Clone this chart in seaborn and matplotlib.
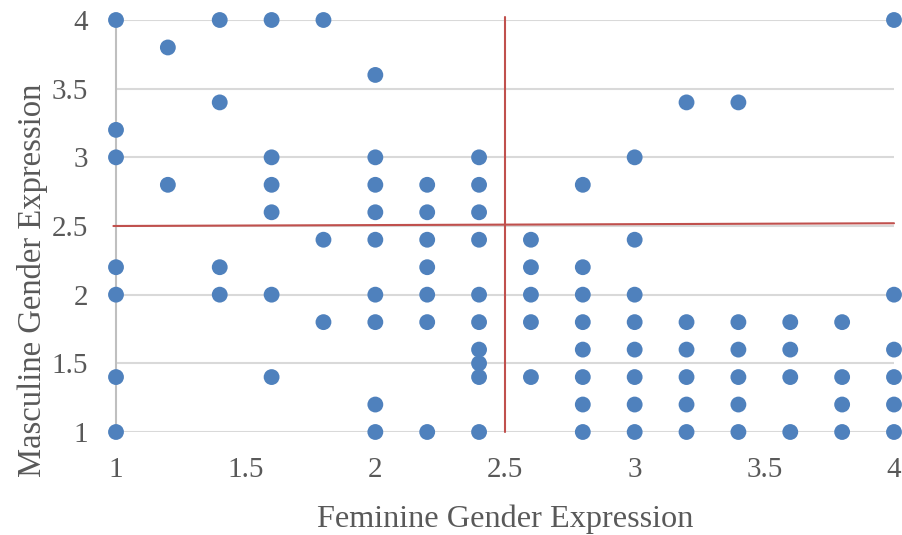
import matplotlib
matplotlib.use("Agg")
import matplotlib.pyplot as plt
import seaborn as sns
import pandas as pd

# Feminine (x) and masculine (y) gender expression scores, grouped by x value
fem_levels = [1.0, 1.2, 1.4, 1.6, 1.8, 2.0, 2.2, 2.4, 2.6, 2.8, 3.0, 3.2, 3.4, 3.6, 3.8, 4.0]
masc_by_fem = [
    [4.0, 3.2, 3.0, 2.2, 2.0, 1.4, 1.0],
    [3.8, 2.8],
    [4.0, 3.4, 2.2, 2.0],
    [4.0, 3.0, 2.8, 2.6, 2.0, 1.4],
    [4.0, 2.4, 1.8],
    [3.6, 3.0, 2.8, 2.6, 2.4, 2.0, 1.8, 1.2, 1.0],
    [2.8, 2.6, 2.4, 2.2, 2.0, 1.8, 1.0],
    [3.0, 2.8, 2.6, 2.4, 2.0, 1.8, 1.6, 1.5, 1.4, 1.0],
    [2.4, 2.2, 2.0, 1.8, 1.4],
    [2.8, 2.2, 2.0, 1.8, 1.6, 1.4, 1.2, 1.0],
    [3.0, 2.4, 2.0, 1.8, 1.6, 1.4, 1.2, 1.0],
    [3.4, 1.8, 1.6, 1.4, 1.2, 1.0],
    [3.4, 1.8, 1.6, 1.4, 1.2, 1.0],
    [1.8, 1.6, 1.4, 1.0],
    [1.8, 1.4, 1.2, 1.0],
    [4.0, 2.0, 1.6, 1.4, 1.2, 1.0],
]

# Cut-off (midpoint) reference lines
cut_x = 2.5
cut_y_start, cut_y_end = 2.5, 2.52

x_ticks = [1, 1.5, 2, 2.5, 3, 3.5, 4]
y_ticks = [1, 1.5, 2, 2.5, 3, 3.5, 4]
x_tick_labels = ["1", "1.5", "2", "2.5", "3", "3.5", "4"]
y_tick_labels = ["1", "1.5", "2", "2.5", "3", "3.5", "4"]

rows = [(fx, my) for fx, ys in zip(fem_levels, masc_by_fem) for my in ys]
df = pd.DataFrame(rows, columns=["Feminine", "Masculine"])

sns.set_style("white")
plt.rcParams["font.family"] = ["Liberation Serif", "DejaVu Serif"]

text_color = "#595959"
grid_color = "#d9d9d9"

fig = plt.figure(figsize=(9.03, 5.35), dpi=100)
ax = fig.add_axes([116 / 903, 1 - 432 / 535, 778 / 903, 412 / 535])

# horizontal gridlines
for yv in y_ticks:
    ax.axhline(yv, color=grid_color, lw=1.5, zorder=0)

# reference lines
ax.plot([cut_x, cut_x], [1.0, 4.02], color="#C0504D", lw=1.5, zorder=1, clip_on=False)
ax.plot([0.99, 4.0], [cut_y_start, cut_y_end], color="#C0504D", lw=1.5, zorder=1, clip_on=False)

sns.scatterplot(data=df, x="Feminine", y="Masculine", ax=ax, s=130,
                color="#4F81BD", edgecolor="none", linewidth=0, zorder=3, clip_on=False)

ax.set_xlim(1, 4)
ax.set_ylim(1, 4)
ax.set_xticks(x_ticks)
ax.set_xticklabels(x_tick_labels)
ax.set_yticks(y_ticks)
ax.set_yticklabels(y_tick_labels)
ax.tick_params(axis="both", length=0, labelsize=21, labelcolor=text_color)
ax.tick_params(axis="x", pad=18)
ax.tick_params(axis="y", pad=20)

for side in ["top", "right", "bottom"]:
    ax.spines[side].set_visible(False)
ax.spines["left"].set_color("#bfbfbf")
ax.spines["left"].set_linewidth(1.5)
ax.spines["left"].set_zorder(0)

ax.set_xlabel("Feminine Gender Expression", fontsize=23.2, color=text_color)
ax.set_ylabel("Masculine Gender Expression", fontsize=23.5, color=text_color)
ax.xaxis.set_label_coords(0.5, -0.175)
ax.yaxis.set_label_coords(-0.088, 0.367)

fig.savefig("out.png", dpi=100)
